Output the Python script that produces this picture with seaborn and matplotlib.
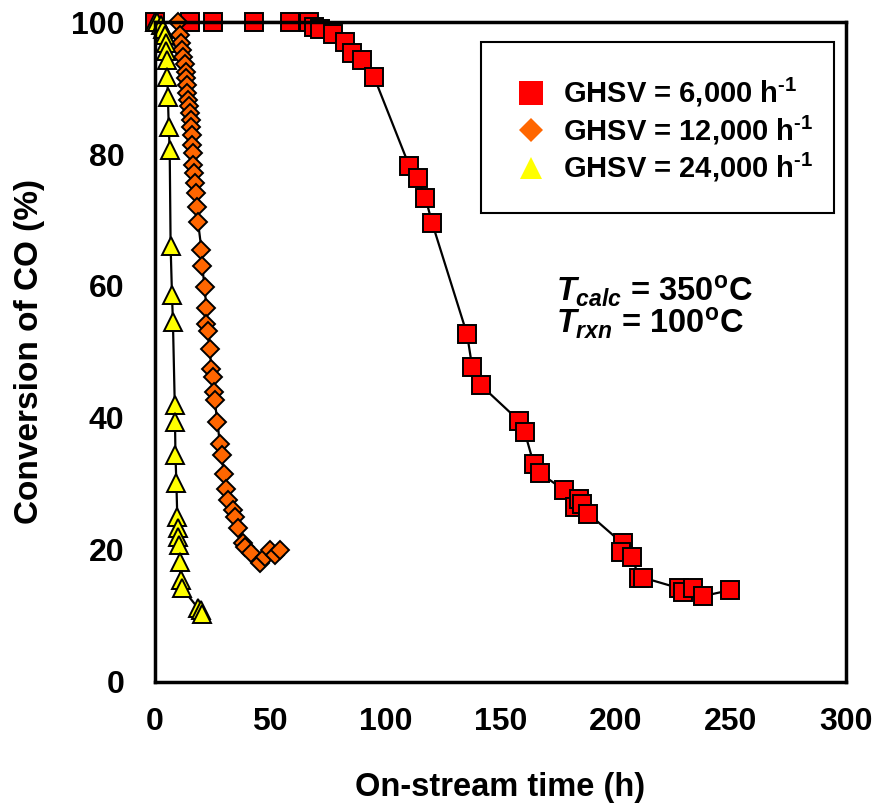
import numpy as np
import pandas as pd
import matplotlib
matplotlib.use("Agg")
import matplotlib.pyplot as plt
import seaborn as sns
from matplotlib.lines import Line2D
from matplotlib.patches import Rectangle
from matplotlib.ticker import MultipleLocator

# ---- data ----
red_t = [0, 15, 25, 43, 58.6, 66.9, 69.2, 71.7, 77.2, 82.6, 85.5, 89.8, 95.2,
         110.4, 114.1, 117.4, 120.3, 135.5, 137.7, 141.4, 158.0, 160.5, 164.5,
         167.3, 177.6, 182.5, 184.0, 185.5, 188.2, 203.0, 202.3, 206.9, 210.3,
         212.0, 227.7, 229.1, 233.5, 237.8, 249.5]
red_y = [100, 100, 100, 100, 100, 100, 99.3, 98.9, 98.2, 97.0, 95.3, 94.3, 91.6,
         78.2, 76.3, 73.4, 69.6, 52.7, 47.8, 45.0, 39.6, 37.9, 33.0,
         31.6, 29.1, 26.5, 27.8, 27.0, 25.5, 21.0, 19.7, 19.0, 15.8,
         15.8, 14.2, 13.7, 14.2, 13.0, 13.9]

orange_t = [10.0, 10.7, 11.2, 11.8, 12.2, 12.9, 13.6, 13.6, 14.1, 14.1, 14.4, 14.7,
            15.1, 15.5, 15.8, 16.1, 16.1, 16.5, 16.5, 17.0, 17.5, 18.0, 18.4, 18.7,
            20.2, 20.5, 21.6, 22.3, 22.3, 23.1, 23.8, 24.5, 25.3, 25.7, 25.9, 27.1,
            28.2, 28.9, 30.0, 31.0, 31.8, 34.0, 34.7, 36.1, 38.3, 39.1, 41.9, 45.6,
            47.8, 49.9, 52.1, 54.3]
orange_y = [100, 98.0, 96.8, 95.8, 94.7, 93.7, 92.5, 91.5, 90.5, 89.2, 88.2, 87.2,
            86.2, 85.2, 84.1, 82.9, 81.4, 80.1, 78.3, 77.1, 75.6, 74.1, 72.0, 69.7,
            65.5, 63.0, 59.8, 56.6, 54.3, 53.2, 50.4, 47.4, 46.2, 44.0, 42.8, 39.4,
            36.1, 34.4, 31.5, 29.2, 27.6, 26.1, 25.0, 23.3, 21.0, 20.5, 19.5, 18.0,
            19.0, 20.0, 19.2, 20.0]

yellow_t = [0, 1.0, 2.5, 3.5, 4.3, 4.6, 4.9, 5.1, 5.4, 5.6, 6.0, 6.4, 6.8, 7.4, 7.8,
            8.6, 8.7, 8.9, 9.3, 9.7, 10.0, 10.1, 10.4, 10.8, 11.2, 11.8, 18.7, 20.2,
            20.4]
yellow_y = [100, 100, 99.5, 99.0, 98.0, 96.8, 95.6, 94.2, 91.7, 88.7, 84.1, 80.6,
            66.0, 58.6, 54.6, 42.0, 39.4, 34.4, 30.2, 25.0, 23.3, 22.0, 20.8, 18.2,
            15.5, 14.2, 11.2, 10.9, 10.3]

series_labels = [r"GHSV = 6,000 h$^{\text{-}1}$",
                 r"GHSV = 12,000 h$^{\text{-}1}$",
                 r"GHSV = 24,000 h$^{\text{-}1}$"]
x_label = "On-stream time (h)"
y_label = "Conversion of CO (%)"
note1 = r"$\mathit{T}_{\mathit{calc}}$ = 350$^{\text{o}}$C"
note2 = r"$\mathit{T}_{\mathit{rxn}}$ = 100$^{\text{o}}$C"

# ---- style ----
sns.set_theme(style="white")
plt.rcParams.update({
    "font.family": ["Liberation Sans", "DejaVu Sans"],
    "font.weight": "bold",
    "text.color": "black",
    "axes.labelcolor": "black",
    "xtick.color": "black",
    "ytick.color": "black",
    "mathtext.fontset": "custom",
    "mathtext.rm": "Liberation Sans:bold",
    "mathtext.bf": "Liberation Sans:bold",
    "mathtext.it": "Liberation Sans:italic:bold",
    "mathtext.default": "rm",
})

fig = plt.figure(figsize=(8.73, 8.09), dpi=100)
ax = fig.add_axes([0.1775, 0.157, 0.7915, 0.8158])

styles = [
    (red_t, red_y, "s", "#FF0000", 13.5),
    (orange_t, orange_y, "D", "#FF6600", 9.5),
    (yellow_t, yellow_y, "^", "#FFFF00", 13),
]
for t, y, mk, fc, ms in styles:
    df = pd.DataFrame({"t": t, "y": y})
    sns.lineplot(data=df, x="t", y="y", ax=ax, sort=False, estimator=None,
                 color="black", lw=1.6, marker=mk, markersize=ms,
                 markerfacecolor=fc, markeredgecolor="black",
                 markeredgewidth=1.4, clip_on=False, legend=False)

ax.set_xlim(0, 300)
ax.set_ylim(0, 100)
ax.xaxis.set_major_locator(MultipleLocator(50))
ax.xaxis.set_minor_locator(MultipleLocator(10))
ax.yaxis.set_major_locator(MultipleLocator(20))
ax.yaxis.set_minor_locator(MultipleLocator(5))
ax.tick_params(axis="x", which="major", direction="inout", length=14, width=2,
               labelsize=23, pad=11, colors="black")
ax.tick_params(axis="x", which="minor", direction="in", length=7, width=1.5)
ax.tick_params(axis="y", which="major", direction="out", length=9, width=2,
               labelsize=23, pad=13, colors="black")
ax.tick_params(axis="y", which="minor", direction="in", length=7, width=1.5)
for lab in ax.get_xticklabels() + ax.get_yticklabels():
    lab.set_fontweight("bold")
for sp in ax.spines.values():
    sp.set_visible(True)
    sp.set_linewidth(2.5)
    sp.set_color("black")

ax.set_xlabel(x_label, fontsize=23.5, fontweight="bold", labelpad=25, color="black")
ax.set_ylabel(y_label, fontsize=24, fontweight="bold", labelpad=19, color="black")

# legend with rectangular frame
rect = Rectangle((0.472, 0.711), 0.511, 0.259, transform=ax.transAxes,
                 fill=True, facecolor="white", edgecolor="black", lw=1.5, zorder=5)
ax.add_patch(rect)
handles = [
    Line2D([], [], ls="none", marker="s", markersize=17, markerfacecolor="#FF0000", markeredgewidth=0),
    Line2D([], [], ls="none", marker="D", markersize=12, markerfacecolor="#FF6600", markeredgewidth=0),
    Line2D([], [], ls="none", marker="^", markersize=16, markerfacecolor="#FFFF00", markeredgewidth=0),
]
leg = ax.legend(handles, series_labels, loc="center", bbox_to_anchor=(0.738, 0.836),
                frameon=False, handlelength=1.0, handletextpad=0.6,
                labelspacing=0.15, prop={"weight": "bold", "size": 21})
for txt in leg.get_texts():
    txt.set_color("black")
leg.set_zorder(6)

ax.text(174, 59.2, note1, fontsize=23.5, fontweight="bold", va="center", ha="left", color="black")
ax.text(174, 54.3, note2, fontsize=23.5, fontweight="bold", va="center", ha="left", color="black")

fig.savefig("out.png", dpi=100)
